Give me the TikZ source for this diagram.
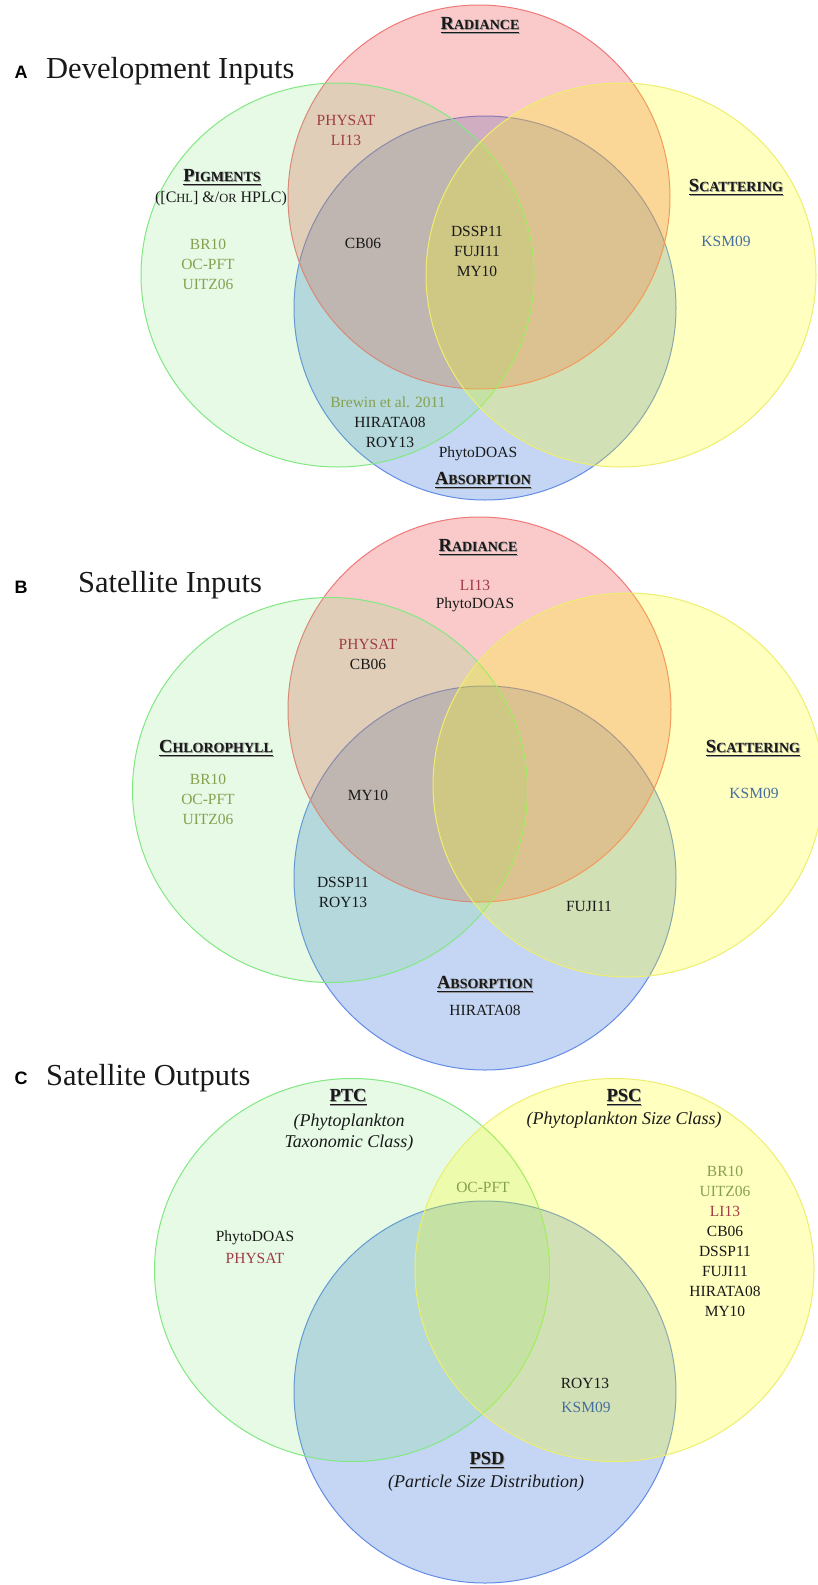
\documentclass[tikz,border=0pt]{standalone}
\usepackage{fontspec}
\setmainfont{Liberation Serif}
\newfontfamily\labfont{Liberation Sans}
\definecolor{cRed}{RGB}{240,80,80}
\definecolor{cRedS}{RGB}{240,120,120}
\definecolor{cGrn}{RGB}{100,230,100}
\definecolor{cGrnS}{RGB}{130,232,130}
\definecolor{cYel}{RGB}{255,255,0}
\definecolor{cYelS}{RGB}{238,238,110}
\definecolor{cBlu}{RGB}{60,120,220}
\definecolor{cBluS}{RGB}{100,140,230}
\definecolor{tRed}{RGB}{160,60,70}
\definecolor{tOli}{RGB}{135,160,80}
\definecolor{tBlu}{RGB}{70,110,160}
\definecolor{tBlk}{RGB}{25,25,25}
\definecolor{tShd}{RGB}{150,150,150}
\newcommand\scp[1]{{\fontsize{14}{14}\selectfont #1}}
\newcommand\smq[1]{{\fontsize{12.5}{12.5}\selectfont #1}}
\newcommand\hul[1]{\leavevmode\setbox0\hbox{#1}%
  \rlap{\kern0.9pt\raisebox{-0.9pt}{\color{tShd}\copy0}}%
  \rlap{\kern0.9pt\raisebox{-4.3pt}{\color{tShd}\rule{\wd0}{1.4pt}}}%
  \rlap{\raisebox{-3.4pt}{\rule{\wd0}{1.4pt}}}\box0}
\tikzset{
  redc/.style={draw=cRedS, fill=cRed, fill opacity=0.3, line width=1pt},
  grnc/.style={draw=cGrnS, fill=cGrn, fill opacity=0.16, line width=1pt},
  yelc/.style={draw=cYelS, fill=cYel, fill opacity=0.25, line width=1pt},
  bluc/.style={draw=cBluS, fill=cBlu, fill opacity=0.3, line width=1pt},
  item/.style={font=\fontsize{15.5}{20}\selectfont, align=center, inner sep=0pt, text=tBlk},
  itemR/.style={item, text=tRed},
  itemO/.style={item, text=tOli},
  itemB/.style={item, text=tBlu},
  hdr/.style={font=\fontsize{18.5}{20}\selectfont\bfseries, inner sep=0pt, text=tBlk},
  sub/.style={font=\fontsize{18}{21}\selectfont\itshape, align=center, inner sep=0pt, text=tBlk},
  lab/.style={font=\fontsize{18}{18}\selectfont\labfont\bfseries, inner sep=0pt, text=black},
  ttl/.style={font=\fontsize{30.5}{32}\selectfont, inner sep=0pt, anchor=west, text=tBlk}
}
\begin{document}
\begin{tikzpicture}[x=1pt,y=-1pt]
\useasboundingbox (0,0) rectangle (817,1585);
\fill[white] (0,0) rectangle (817,1585);

% ---------------- Panel A ----------------
\path[bluc] (485,308) ellipse [x radius=191pt,y radius=192pt];
\path[redc] (479,197) ellipse [x radius=191pt,y radius=192pt];
\path[grnc] (337.5,275) ellipse [x radius=196.5pt,y radius=192pt];
\path[yelc] (621,275) ellipse [x radius=195pt,y radius=192pt];

\node[lab] (labA) at (21,72) {A};
\node[ttl] (titA) at (46,71) {Development Inputs};
\node[hdr] (hRadA) at (480,26) {\hul{R\scp{ADIANCE}}};
\node[itemR] (physatA) at (346,130.5) {PHYSAT\\LI13};
\node[hdr] (hPigA) at (222,178) {\hul{P\scp{IGMENTS}}};
\node[item, font=\fontsize{16}{18}\selectfont] (pigSubA) at (221,199) {([C\smq{HL}] \&/\smq{OR} HPLC)};
\node[itemO] (grnA) at (208,264) {BR10\\OC-PFT\\UITZ06};
\node[item] (cbA) at (363,243) {CB06};
\node[item] (midA) at (477,251) {DSSP11\\FUJI11\\MY10};
\node[hdr] (hScatA) at (736,188) {\hul{S\scp{CATTERING}}};
\node[itemB] (ksmA) at (726,241) {KSM09};
\node[itemO] (brewinA) at (388,402) {Brewin et al. 2011};
\node[item] (hirA) at (390,432) {HIRATA08\\ROY13};
\node[item] (phytoA) at (478,454) {PhytoDOAS};
\node[hdr] (hAbsA) at (483,481) {\hul{A\scp{BSORPTION}}};

% ---------------- Panel B ----------------
\path[bluc] (485,878) ellipse [x radius=191pt,y radius=192pt];
\path[redc] (479.5,709.5) ellipse [x radius=191.5pt,y radius=192.5pt];
\path[grnc] (330,790) ellipse [x radius=197.5pt,y radius=192.5pt];
\path[yelc] (628,785) ellipse [x radius=195pt,y radius=192pt];

\node[lab] (labB) at (21,587) {B};
\node[ttl] (titB) at (78,585) {Satellite Inputs};
\node[hdr] (hRadB) at (478,548) {\hul{R\scp{ADIANCE}}};
\node[itemR] (liB) at (475,585) {LI13};
\node[item] (phytoB) at (475,605) {PhytoDOAS};
\node[itemR] (physatB) at (368,644) {PHYSAT};
\node[item] (cbB) at (368,664) {CB06};
\node[hdr] (hChlB) at (216,749) {\hul{C\scp{HLOROPHYLL}}};
\node[itemO] (grnB) at (208,799) {BR10\\OC-PFT\\UITZ06};
\node[item] (myB) at (368,795) {MY10};
\node[hdr] (hScatB) at (753,749) {\hul{S\scp{CATTERING}}};
\node[itemB] (ksmB) at (754,793) {KSM09};
\node[item] (dsspB) at (343,892) {DSSP11\\ROY13};
\node[item] (fujiB) at (589,906) {FUJI11};
\node[hdr] (hAbsB) at (485,985) {\hul{A\scp{BSORPTION}}};
\node[item] (hirB) at (485,1010) {HIRATA08};

% ---------------- Panel C ----------------
\path[bluc] (485,1392) ellipse [x radius=191pt,y radius=191pt];
\path[grnc] (352,1270) ellipse [x radius=197.5pt,y radius=191.5pt];
\path[yelc] (614.5,1270) ellipse [x radius=199.5pt,y radius=191.5pt];

\node[lab] (labC) at (21,1078) {C};
\node[ttl] (titC) at (46,1078) {Satellite Outputs};
\node[hdr] (hPTC) at (348,1098) {\hul{PTC}};
\node[sub] (subPTC) at (349,1132.5) {(Phytoplankton\\Taxonomic Class)};
\node[hdr] (hPSC) at (624,1098) {\hul{PSC}};
\node[sub] (subPSC) at (624,1120) {(Phytoplankton Size Class)};
\node[itemO] (ocC) at (483,1187) {OC-PFT};
\node[item] (phytoC) at (255,1238) {PhytoDOAS};
\node[itemR] (physatC) at (255,1258) {PHYSAT};
\node[item] (listC) at (725,1241) {{\color{tOli}BR10}\\{\color{tOli}UITZ06}\\{\color{tRed}LI13}\\CB06\\DSSP11\\FUJI11\\HIRATA08\\MY10};
\node[item] (royC) at (585,1383) {ROY13};
\node[itemB] (ksmC) at (586,1407) {KSM09};
\node[hdr] (hPSD) at (487,1461) {\hul{PSD}};
\node[sub] (subPSD) at (486,1483) {(Particle Size Distribution)};
\end{tikzpicture}
\end{document}
